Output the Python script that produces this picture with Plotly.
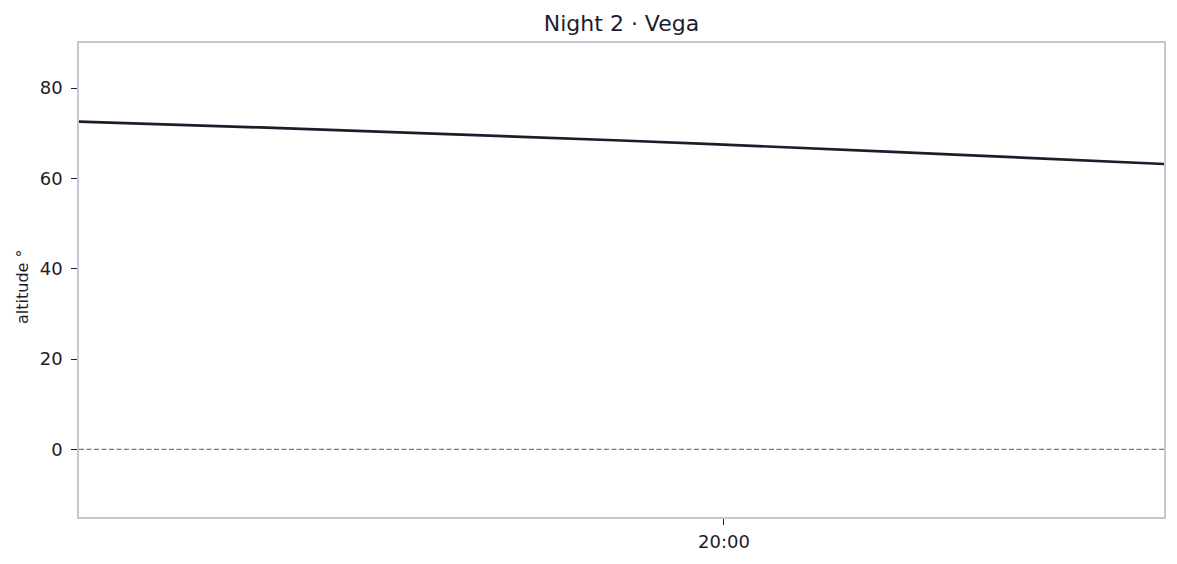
import plotly.graph_objects as go

# Vega altitude over the second night, sampled every 5 minutes
times = [
    "2024-06-15 19:24:20", "2024-06-15 19:29:20", "2024-06-15 19:34:20",
    "2024-06-15 19:39:20", "2024-06-15 19:44:20", "2024-06-15 19:49:20",
    "2024-06-15 19:54:20", "2024-06-15 19:59:20", "2024-06-15 20:04:20",
    "2024-06-15 20:09:20", "2024-06-15 20:14:20", "2024-06-15 20:19:20",
    "2024-06-15 20:24:20",
]
altitude = [72.6, 72.0, 71.3, 70.6, 69.9, 69.2, 68.4, 67.6, 66.8, 65.9, 65.0, 64.1, 63.2]
horizon = [0, 0]
y_ticks = [0, 20, 40, 60, 80]

ink = "#1e1c2c"
frame = "#c6c6d4"
font_family = "DejaVu Sans, sans-serif"

fig = go.Figure()

# horizon line
fig.add_trace(go.Scatter(
    x=[times[0], times[-1]],
    y=horizon,
    mode="lines",
    line=dict(color="#7a7894", width=1.3, dash="5px,2.5px"),
    hoverinfo="skip",
    showlegend=False,
))

fig.add_trace(go.Scatter(
    x=times,
    y=altitude,
    mode="lines",
    line=dict(color=ink, width=2.7),
    name="Vega",
    showlegend=False,
))

# page body has an 8px margin, so the figure is sized to fit inside it
fig.update_layout(
    width=1169,
    height=556,
    paper_bgcolor="white",
    plot_bgcolor="white",
    font=dict(family=font_family, color=ink, size=18),
    title=dict(
        text="Night 2 · Vega",
        x=0.5,
        xref="paper",
        xanchor="center",
        y=0.973,
        yanchor="middle",
        font=dict(size=22, color=ink),
    ),
    margin=dict(l=71, r=13, t=35, b=47),
    showlegend=False,
)

# y label as an annotation so it can sit a little below the axis centre
fig.add_annotation(
    text="altitude °",
    textangle=-90,
    xref="paper",
    yref="paper",
    x=0,
    y=0.5,
    xanchor="center",
    yanchor="middle",
    xshift=-57,
    yshift=-7,
    showarrow=False,
    font=dict(size=16, color=ink),
)

fig.update_xaxes(
    type="date",
    range=[times[0], times[-1]],
    tickformat="%H:%M",
    dtick=3600000,
    tick0="2024-06-15 00:00:00",
    showgrid=False,
    zeroline=False,
    showline=True,
    linecolor=frame,
    linewidth=1.5,
    mirror=True,
    ticks="outside",
    ticklen=6,
    tickwidth=1.3,
    tickcolor=ink,
    ticklabelstandoff=2,
    tickfont=dict(size=18, color=ink),
)

fig.update_yaxes(
    range=[-15, 90],
    tickvals=y_ticks,
    showgrid=False,
    zeroline=False,
    showline=True,
    linecolor=frame,
    linewidth=1.5,
    mirror=True,
    ticks="outside",
    ticklen=6,
    tickwidth=1.3,
    tickcolor=ink,
    ticklabelstandoff=5,
    tickfont=dict(size=18, color=ink),
)

fig.write_html("out.html")
